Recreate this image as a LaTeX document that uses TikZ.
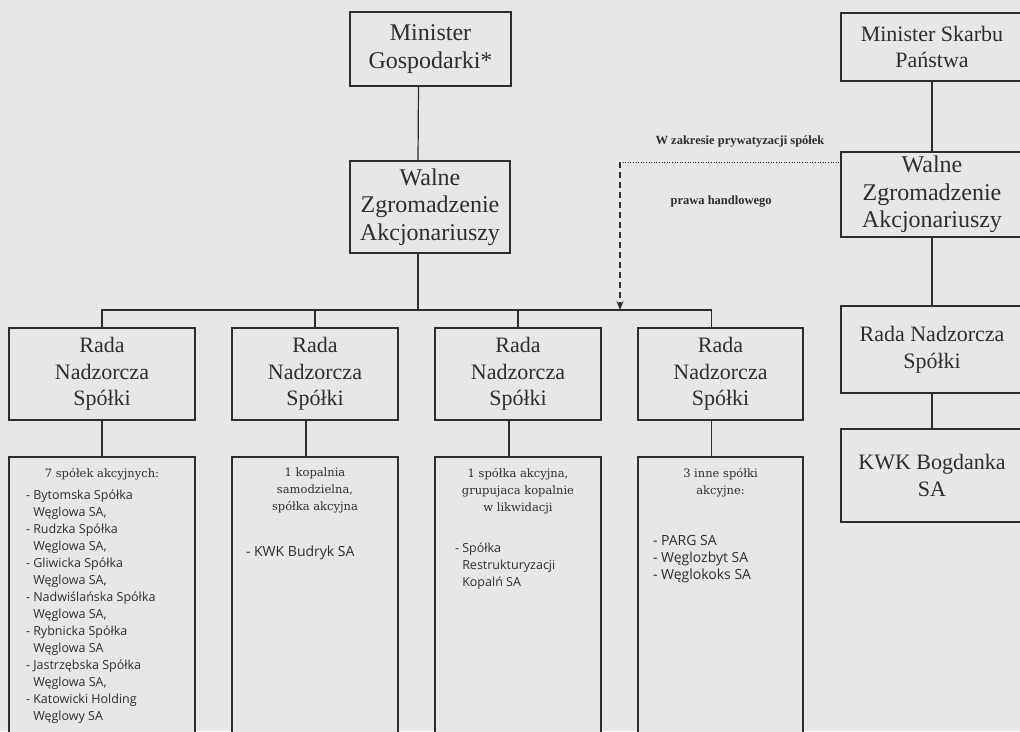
\documentclass[tikz,border=0pt]{standalone}
\usepackage{fontspec}
\setmainfont{Liberation Serif}
\newfontfamily\listfont{Open Sans}
\newfontfamily\headfont{DejaVu Serif}
\usetikzlibrary{positioning,arrows.meta}
\definecolor{paper}{RGB}{230,232,232}
\definecolor{ink}{RGB}{45,45,45}
\newcommand{\pair}[2]{- #1\\\hphantom{- }#2}

\begin{document}
\begin{tikzpicture}[x=1pt, y=-1pt, line width=1.2pt, color=ink,
    box/.style={draw, fill=paper, inner sep=0pt, align=center, font=\fontsize{22}{26.5}\selectfont},
    wide/.style={font=\fontsize{24}{27.5}\selectfont},
    size/.style 2 args={minimum width=#1pt, minimum height=#2pt},
    head/.style={inner sep=0pt, align=center, font=\headfont\fontsize{11.5}{17}\selectfont},
    items/.style={inner sep=0pt, align=left, font=\listfont\fontsize{#1}{17}\selectfont},
    items/.default=12.5,
    remark/.style={inner sep=0pt, font=\bfseries\fontsize{12.5}{14}\selectfont}]
    \useasboundingbox (0,0) rectangle (1020,731);
    \fill[paper] (0,0) rectangle (1020,731);
    \clip (0,0) rectangle (1020,731);

    % left branch
    \node[box, wide, size={161}{74}] (mg) at (430.5,49) {Minister\\Gospodarki*};
    \node[box, wide, size={160}{92}] (wl) at (430,207) {Walne\\Zgromadzenie\\Akcjonariuszy};
    \node[box, size={186}{92}] (r1) at (102,374) {Rada\\Nadzorcza\\Spółki};
    \node[box, size={166}{92}] (r2) at (315,374) {Rada\\Nadzorcza\\Spółki};
    \node[box, size={166}{92}] (r3) at (518,374) {Rada\\Nadzorcza\\Spółki};
    \node[box, size={165}{92}] (r4) at (720.5,374) {Rada\\Nadzorcza\\Spółki};
    \node[box, size={186}{288}] (l1) at (102,601) {};
    \node[box, size={166}{288}] (l2) at (315,601) {};
    \node[box, size={166}{288}] (l3) at (518,601) {};
    \node[box, size={165}{288}] (l4) at (720.5,601) {};

    % right branch
    \node[box, size={182}{68}] (ms) at (932,47) {Minister Skarbu\\Państwa};
    \node[box, wide, size={182}{85}] (wr) at (932,194.5) {Walne\\Zgromadzenie\\Akcjonariuszy};
    \node[box, size={182}{87}] (rr) at (932,349.5) {Rada Nadzorcza\\Spółki};
    \node[box, size={182}{93}] (kb) at (932,475.5) {KWK Bogdanka\\SA};

    % companies
    \node[head, below=11pt of l1.north] (t1) {7 spółek akcyjnych:};
    \node[items, below right=33pt and 17pt of l1.north west] (i1)
        {\pair{Bytomska Spółka}{Węglowa SA,}\\\pair{Rudzka Spółka}{Węglowa SA,}\\
         \pair{Gliwicka Spółka}{Węglowa SA,}\\\pair{Nadwiślańska Spółka}{Węglowa SA,}\\
         \pair{Rybnicka Spółka}{Węglowa SA}\\\pair{Jastrzębska Spółka}{Węglowa SA,}\\
         \pair{Katowicki Holding}{Węglowy SA}};
    \node[head, below=11pt of l2.north] (t2) {1 kopalnia\\samodzielna,\\spółka akcyjna};
    \node[items=14, below right=89pt and 14pt of l2.north west] (i2) {- KWK Budryk SA};
    \node[head, below=11pt of l3.north] (t3) {1 spółka akcyjna,\\grupujaca kopalnie\\w likwidacji};
    \node[items, below right=86pt and 20pt of l3.north west] (i3)
        {- Spółka\\\hphantom{- }Restrukturyzacji\\\hphantom{- }Kopalń SA};
    \node[head, below=11pt of l4.north] (t4) {3 inne spółki\\akcyjne:};
    \node[items=14, below right=78pt and 15pt of l4.north west] (i4)
        {- PARG SA\\- Węglozbyt SA\\- Węglokoks SA};

    % connectors
    \coordinate (bus) at (0,310);
    \coordinate (dz) at (620,162);
    \draw ([xshift=-12pt]mg.south) -- ([xshift=-12pt]wl.north);
    \draw ([xshift=-12pt]wl.south) -- ([xshift=-12pt]wl.south |- bus);
    \draw (r1.north) |- ([xshift=-9pt]r4.north |- bus) -- ([xshift=-9pt]r4.north);
    \foreach \r in {r2,r3}
        \draw (\r.north) -- (\r.north |- bus);
    \draw (r1) -- (l1);
    \foreach \r/\l in {r2/l2, r3/l3, r4/l4}
        \draw ([xshift=-9pt]\r.south) -- ([xshift=-9pt]\l.north);
    \foreach \a/\b in {ms/wr, wr/rr, rr/kb}
        \draw (\a) -- (\b);
    \draw[dash pattern=on 6pt off 4pt, -{Stealth[length=9pt, width=7pt]}] (dz) -- (dz |- bus);
    \draw[dotted, line width=0.6pt] (dz) -- (dz -| wr.west);
    \node[remark, anchor=base west] (n1) at (655,144) {W zakresie prywatyzacji spółek};
    \node[remark, anchor=base west] (n2) at (670,204) {prawa handlowego};
\end{tikzpicture}
\end{document}
